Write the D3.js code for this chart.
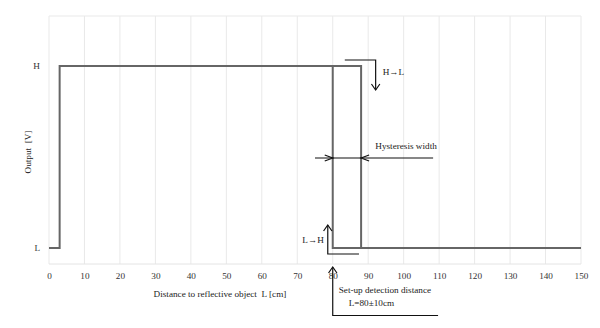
<!DOCTYPE html>
<html>
<head>
<meta charset="utf-8">
<script src="https://cdn.jsdelivr.net/npm/d3@7"></script>
<style>
  html, body { margin: 0; padding: 0; background: #fff; }
</style>
</head>
<body>
<svg id="chart" width="600" height="328"></svg>
<script>
// Output level vs. distance (step response with hysteresis)
const xTicks = [0, 10, 20, 30, 40, 50, 60, 70, 80, 90, 100, 110, 120, 130, 140, 150];
const levelLabels = ["L", "H"];
const levelValues = [0, 1];

// Approach path: output rises near 3 cm, stays H until 88 cm, then drops to L
const pathDistance = [0, 3, 3, 88, 88, 150];
const pathLevel    = [0, 0, 1, 1, 0, 0];
// Switching edge at the set-up detection distance
const edgeDistance = [80, 80, 88];
const edgeLevel    = [1, 0, 0];

const FONT = "'Liberation Serif', 'DejaVu Serif', serif";
const FS = 9.2;

const svg = d3.select("#chart").attr("font-family", FONT);
const plotLeft = 49, plotRight = 581, plotTop = 16, plotBottom = 264;

const x = d3.scaleLinear().domain([0, 150]).range([plotLeft, plotRight]);
const y = d3.scaleLinear().domain([0, 1]).range([248, 66]);

// Vertical gridlines and frame
svg.append("g").selectAll("line").data(xTicks).join("line")
  .attr("x1", d => x(d)).attr("x2", d => x(d))
  .attr("y1", plotTop).attr("y2", plotBottom)
  .attr("stroke", "#e9e9e9").attr("stroke-width", 1);
svg.append("line").attr("x1", plotLeft).attr("x2", plotRight).attr("y1", plotTop).attr("y2", plotTop)
  .attr("stroke", "#e9e9e9");
svg.append("line").attr("x1", plotLeft).attr("x2", plotRight).attr("y1", plotBottom).attr("y2", plotBottom)
  .attr("stroke", "#e4e4e4");

// X axis tick labels
const xAxis = d3.axisBottom(x).tickValues(xTicks).tickSize(0).tickPadding(0);
const gx = svg.append("g").attr("transform", `translate(0,${plotBottom + 15})`).call(xAxis)
  .attr("font-family", FONT).attr("font-size", FS);
gx.select(".domain").remove();
gx.selectAll("text").attr("dy", 0).attr("fill", "#333");

// Y axis level labels
const yAxis = d3.axisLeft(y).tickValues(levelValues).tickFormat((d, i) => levelLabels[i]).tickSize(0).tickPadding(0);
const gy = svg.append("g").attr("transform", `translate(${plotLeft - 9},0)`).call(yAxis)
  .attr("font-family", FONT).attr("font-size", FS);
gy.select(".domain").remove();
gy.selectAll("text").attr("fill", "#333");

// Text helper
const label = (px, py, str, anchor = "start") => svg.append("text")
  .attr("x", px).attr("y", py).attr("text-anchor", anchor)
  .attr("font-family", FONT).attr("font-size", FS).attr("fill", "#222").text(str);

// Axis titles
label(220, 297, "Distance to reflective object\u00a0\u00a0L [cm]", "middle");
svg.append("text").attr("transform", "translate(31,152) rotate(-90)")
  .attr("text-anchor", "middle").attr("font-family", FONT).attr("font-size", FS)
  .attr("fill", "#222").text("Output\u00a0\u00a0[V]");

// Output curves
const line = d3.line().x(d => x(d[0])).y(d => y(d[1]));
svg.append("path").datum(pathDistance.map((d, i) => [d, pathLevel[i]]))
  .attr("d", line).attr("fill", "none").attr("stroke", "#666").attr("stroke-width", 2);
svg.append("path").datum(edgeDistance.map((d, i) => [d, edgeLevel[i]]))
  .attr("d", line).attr("fill", "none").attr("stroke", "#666").attr("stroke-width", 2);

// Annotations
const ann = svg.append("g").attr("fill", "none").attr("stroke", "#111").attr("stroke-width", 1.2);
const chevron = (px, py, dir, s = 5) => {
  // dir: "down", "up", "left", "right" -> arrow tip at (px, py)
  if (dir === "down") return `M${px - s * 0.7},${py - s}L${px},${py}L${px + s * 0.7},${py - s}`;
  if (dir === "up") return `M${px - s * 0.7},${py + s}L${px},${py}L${px + s * 0.7},${py + s}`;
  if (dir === "right") return `M${px - s * 1.6},${py - s * 0.6}L${px},${py}L${px - s * 1.6},${py + s * 0.6}`;
  return `M${px + s * 1.6},${py - s * 0.6}L${px},${py}L${px + s * 1.6},${py + s * 0.6}`;
};

// H→L indicator
const hlX = x(92.1), hlTop = y(1) - 6, hlEnd = y(1) + 24;
ann.append("path").attr("d", `M${x(83.4)},${hlTop}H${hlX}V${hlEnd}`);
ann.append("path").attr("d", chevron(hlX, hlEnd, "down", 6));
label(hlX + 7, y(1) + 9, "H→L");

// Hysteresis width
const hyY = 158;
ann.append("path").attr("d", `M${x(75)},${hyY}H${x(108.3)}`);
ann.append("path").attr("d", chevron(x(80), hyY, "right", 5));
ann.append("path").attr("d", chevron(x(88), hyY, "left", 5));
label(x(92), hyY - 9, "Hysteresis width");

// L→H indicator
const lhX = x(78.6), lhY = y(0) + 6;
ann.append("path").attr("d", `M${x(87.4)},${lhY}H${lhX}V${y(0) - 23}`);
ann.append("path").attr("d", chevron(lhX, y(0) - 23, "up", 6));
label(lhX - 4, y(0) - 5, "L→H", "end");

// Set-up detection distance
const sdX = x(80), sdY = 315.5;
ann.append("path").attr("d", `M${x(109.7)},${sdY}H${sdX}V${plotBottom + 3}`);
ann.append("path").attr("d", chevron(sdX, plotBottom + 3, "up", 6));
label(sdX + 6, 293, "Set-up detection distance");
label(sdX + 16, 306, "L=80±10cm");
</script>
</body>
</html>
